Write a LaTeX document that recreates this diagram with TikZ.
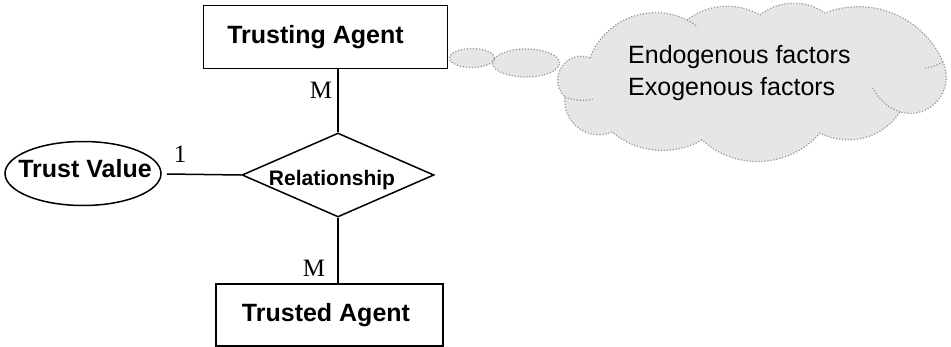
\documentclass[tikz,border=0pt]{standalone}
\usepackage{fontspec}
\setmainfont{Liberation Sans}
\newfontfamily\tnr{Liberation Serif}
\usetikzlibrary{shapes.geometric}
\definecolor{cloudfill}{RGB}{230,230,230}
\definecolor{cloudline}{RGB}{150,150,150}
\begin{document}
\begin{tikzpicture}[x=1pt,y=-1pt,
  entity/.style={draw,line width=1.8pt,rectangle,inner sep=0pt,font=\fontsize{25}{28}\selectfont\bfseries},
  attrib/.style={draw,line width=1.5pt,ellipse,inner sep=0pt},
  attrtext/.style={font=\fontsize{25}{28}\selectfont\bfseries,inner sep=0pt,anchor=base},
  relshape/.style={draw,line width=1.5pt,diamond,inner sep=0pt},
  reltext/.style={font=\fontsize{21}{24}\selectfont\bfseries,inner sep=0pt,anchor=base},
  card/.style={font=\tnr\fontsize{25}{28}\selectfont,inner sep=0pt},
  conn/.style={line width=1.5pt},
  cloudline/.style={draw=cloudline,line width=1.2pt,dash pattern=on 1.2pt off 1.8pt},
  bubble/.style={ellipse,inner sep=0pt},
  cloudtext/.style={font=\fontsize{25}{28}\selectfont,inner sep=0pt,anchor=base west},
  bmp/.style 2 args={bend left=#1,looseness=#2}]
\useasboundingbox (0,0) rectangle (951,346);

% cloud outline path (cusps between puffs)
\def\cloudpath{(590,58) to[bmp={48}{1.02}] (687,20) to[bmp={34}{0.93}] (760,15)
  to[bmp={37}{0.95}] (825,13) to[bmp={44}{0.99}] (943,62) to[bmp={65}{1.2}] (900,112)
  to[bmp={42}{0.98}] (820,133) to[bmp={46}{1.0}] (702,140) to[bmp={35}{0.93}] (612,132)
  to[bmp={60}{1.13}] (565,97) to[bmp={79}{1.43}] (590,58) -- cycle}
\node[bubble,fill=cloudfill,minimum width=67pt,minimum height=28pt] (b2) at (526,63) {};
\node[bubble,fill=cloudfill,minimum width=45pt,minimum height=19pt] (b1) at (472,58) {};
\fill[cloudfill] \cloudpath;
\draw[cloudline] \cloudpath;
\draw[cloudline] (b2.center) ellipse[x radius=33.5pt,y radius=14pt];
\draw[cloudline] (b1.center) ellipse[x radius=22.5pt,y radius=9.5pt];
% inner tails of the cloud puffs
\draw[cloudline] (565,97) to[bend right=15] (594,99);
\draw[cloudline] (943,62) to[bend left=10] (925,68);
\draw[cloudline] (900,112) to[bend left=20] (873,88);
\draw[cloudline] (687,20) to[bend left=10] (697,27);
\node[cloudtext] (endo) at (628,63) {Endogenous factors};
\node[cloudtext] (exo) at (628,95) {Exogenous factors};

% entities
\node[entity,minimum width=244pt,minimum height=63pt] (ta) at (325.5,37)
  {\hspace*{-20pt}\raisebox{-1.7pt}{Trusting Agent}};
\node[entity,minimum width=227pt,minimum height=62pt] (td) at (329.5,315)
  {\hspace*{-7pt}\raisebox{-1.5pt}{Trusted Agent}};
\node[attrib,minimum width=156pt,minimum height=64pt] (tv) at (83,173.5) {};
\node[attrtext] (tvtxt) at (85,177) {Trust Value};
\node[relshape,minimum width=192pt,minimum height=84pt] (rel) at (338,175) {};
\node[reltext] (reltxt) at (332,185) {Relationship};

% connectors
\draw[conn] (rel.north) -- (rel.north |- ta.south);
\draw[conn] (rel.south) -- (rel.south |- td.north);
\coordinate (tvend) at (167,174);
\draw[conn] (tvend) -- (rel.west);

% cardinalities
\node[card] (m1) at (321,90) {M};
\node[card] (m2) at (314,268) {M};
\node[card] (one) at (180,154) {1};
\end{tikzpicture}
\end{document}
